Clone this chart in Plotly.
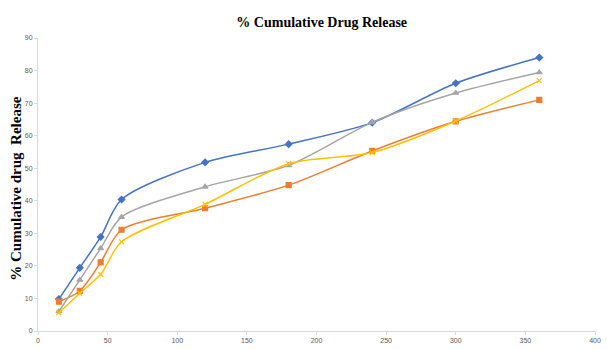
import plotly.graph_objects as go

time_min = [15, 30, 45, 60, 120, 180, 240, 300, 360]
series_blue = [9.8, 19.4, 28.9, 40.4, 51.8, 57.4, 64.0, 76.1, 84.0]
series_orange = [9.0, 12.3, 21.1, 31.1, 37.7, 44.8, 55.3, 64.4, 71.0]
series_gray = [6.0, 15.7, 25.4, 35.0, 44.3, 50.9, 64.1, 73.1, 79.4]
series_yellow = [5.6, 11.6, 17.4, 27.4, 38.9, 51.4, 54.8, 64.5, 76.9]
x_ticks = [0, 50, 100, 150, 200, 250, 300, 350, 400]
y_ticks = [0, 10, 20, 30, 40, 50, 60, 70, 80, 90]

styles = [
    (series_blue, "#4472C4", "diamond"),
    (series_orange, "#ED7D31", "square"),
    (series_gray, "#A5A5A5", "triangle-up"),
    (series_yellow, "#FFC000", "x-thin-open"),
]

fig = go.Figure()
for vals, col, sym in styles:
    fig.add_trace(go.Scatter(
        x=time_min, y=vals, mode="lines+markers",
        line=dict(color=col, width=1.5, shape="spline", smoothing=0.8),
        marker=dict(symbol=sym, size=5, color=col, line=dict(color=col, width=1.2)),
        showlegend=False,
    ))

axis_common = dict(
    showgrid=False, zeroline=False, showline=True, linecolor="#D9D9D9", linewidth=1,
    ticks="outside", ticklen=3, tickcolor="#D9D9D9",
    tickfont=dict(family="Liberation Sans, Arial", size=7, color="#595959"),
)
fig.update_xaxes(range=[0, 400], tickvals=x_ticks, **axis_common)
fig.update_yaxes(range=[0, 90], tickvals=y_ticks, **axis_common)

fig.update_layout(
    width=607, height=350,
    margin=dict(l=38, r=6, t=38, b=16),
    plot_bgcolor="white", paper_bgcolor="white",
    title=dict(text="<b>% Cumulative Drug Release</b>", x=0.53, xanchor="center", y=0.937, yanchor="middle",
               font=dict(family="Liberation Serif, Times New Roman", size=14, color="black")),
)
fig.add_annotation(
    text="<b>% Cumulative drug  Release</b>", xref="paper", yref="paper",
    x=-0.041, y=0.486, xanchor="center", yanchor="middle", textangle=-90, showarrow=False,
    font=dict(family="Liberation Serif, Times New Roman", size=15, color="black"),
)
fig.write_html("out.html", config={"displayModeBar": False},
               post_script="document.body.style.margin='0';")
